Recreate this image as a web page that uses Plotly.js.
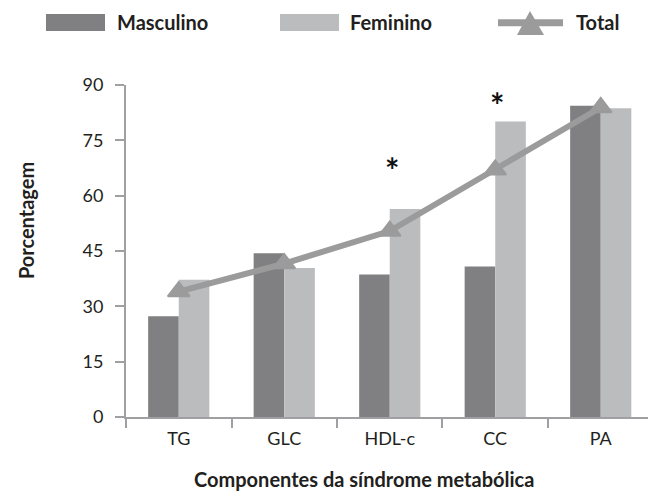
<!DOCTYPE html>
<html>
<head>
<meta charset="utf-8">
<script src="https://cdn.plot.ly/plotly-3.0.1.min.js"></script>
<style>html,body{margin:0;padding:0;background:#fff}#chart{width:648px;height:492px}</style>
</head>
<body>
<div id="chart"></div>
<script>
const categories = ["TG", "GLC", "HDL-c", "CC", "PA"];
const masculino = [27.3, 44.4, 38.6, 40.8, 84.4];
const feminino = [37.2, 40.4, 56.4, 80.1, 83.7];
const total = [34.0, 41.6, 50.4, 67.0, 83.9];
const significant = ["HDL-c", "CC"];
const seriesNames = ["Masculino", "Feminino", "Total"];
const yTicks = [0, 15, 30, 45, 60, 75, 90];
const xTitle = "Componentes da síndrome metabólica";
const yTitle = "Porcentagem";

const FONT = 'Lato, "Open Sans", sans-serif';
const TXT = '#231f20';
const C_M = '#808082';
const C_F = '#bbbcbe';
const C_T = '#9b9b9c';
const AX = '#a0a0a2';

const traces = [
  {type: 'bar', name: seriesNames[0], x: categories, y: masculino, marker: {color: C_M, line: {width: 0}}, showlegend: false},
  {type: 'bar', name: seriesNames[1], x: categories, y: feminino, marker: {color: C_F, line: {width: 0}}, showlegend: false},
  {type: 'scatter', mode: 'lines+markers', name: seriesNames[2], x: categories, y: total,
   line: {color: C_T, width: 6}, marker: {symbol: 'triangle-up', size: 19, color: C_T, line: {color: C_T, width: 2}}, showlegend: false}
];

// significance stars above the female bars
const idxOf = c => categories.indexOf(c);
const starLift = {"HDL-c": 10.6, "CC": 4.6};
const starAnn = significant.map(c => ({
  x: idxOf(c) + 0.02, xref: 'x', y: feminino[idxOf(c)] + starLift[c], yref: 'y',
  text: '<b>*</b>', showarrow: false, font: {family: FONT, size: 34, color: '#111'}
}));

// custom legend (paper coordinates)
const legendShapes = [
  {type: 'rect', xref: 'paper', yref: 'paper', x0: -0.1533, x1: -0.0402, y0: 1.1624, y1: 1.2135, fillcolor: C_M, line: {width: 0}},
  {type: 'rect', xref: 'paper', yref: 'paper', x0: 0.2950, x1: 0.4080, y0: 1.1624, y1: 1.2135, fillcolor: C_F, line: {width: 0}},
  {type: 'line', xref: 'paper', yref: 'paper', x0: 0.7126, x1: 0.8372, y0: 1.1874, y1: 1.1874, line: {color: C_T, width: 7}},
  {type: 'path', xref: 'paper', yref: 'paper', path: 'M 0.7490 1.1504 L 0.8008 1.1504 L 0.7739 1.2226 Z', fillcolor: C_T, line: {width: 0}}
];
const LEG_FONT = {family: FONT, size: 20, color: TXT};
const legendAnn = [
  {xref: 'paper', yref: 'paper', x: -0.0212, y: 1.1886, xanchor: 'left', yanchor: 'middle', text: '<b>' + seriesNames[0] + '</b>', showarrow: false, font: LEG_FONT},
  {xref: 'paper', yref: 'paper', x: 0.4252, y: 1.1886, xanchor: 'left', yanchor: 'middle', text: '<b>' + seriesNames[1] + '</b>', showarrow: false, font: LEG_FONT},
  {xref: 'paper', yref: 'paper', x: 0.8582, y: 1.1886, xanchor: 'left', yanchor: 'middle', text: '<b>' + seriesNames[2] + '</b>', showarrow: false, font: LEG_FONT}
];
const titleAnn = [
  {xref: 'paper', yref: 'paper', x: 0.455, y: -0.188, xanchor: 'center', yanchor: 'middle', text: '<b>' + xTitle + '</b>', showarrow: false, font: LEG_FONT},
  {xref: 'paper', yref: 'paper', x: -0.1929, y: 0.591, xanchor: 'center', yanchor: 'middle', textangle: -90, text: '<b>' + yTitle + '</b>', showarrow: false, font: LEG_FONT}
];

const layout = {
  width: 648, height: 492,
  margin: {l: 126, r: 0, t: 85, b: 74.5},
  paper_bgcolor: '#fff', plot_bgcolor: '#fff',
  barmode: 'group', bargap: 0.42, bargroupgap: 0,
  font: {family: FONT, color: TXT, size: 18},
  xaxis: {
    type: 'category', range: [-0.5, 4.448], showgrid: false, showline: true, linecolor: AX, linewidth: 2,
    ticks: 'outside', tickson: 'boundaries', ticklen: 9, tickcolor: AX, tickwidth: 2,
    tickfont: {family: FONT, size: 18, color: TXT}, ticklabelstandoff: 4,
    zeroline: false
  },
  yaxis: {
    range: [0, 90], tickvals: yTicks, showgrid: false, showline: true, linecolor: AX, linewidth: 2,
    ticks: 'outside', ticklen: 9, tickcolor: AX, tickwidth: 2, zeroline: false,
    tickfont: {family: FONT, size: 18, color: TXT}, ticklabelstandoff: 8
  },
  shapes: legendShapes,
  annotations: starAnn.concat(legendAnn, titleAnn)
};

Plotly.newPlot('chart', traces, layout, {displayModeBar: false, staticPlot: true});
</script>
</body>
</html>
